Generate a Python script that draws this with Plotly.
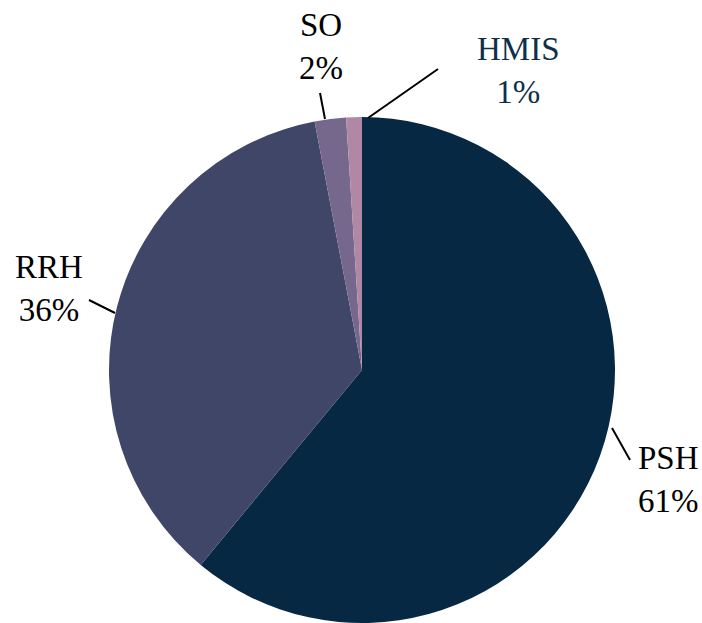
import plotly.graph_objects as go

# Données
programmes = ["PSH", "RRH", "SO", "HMIS"]
parts = [61, 36, 2, 1]
couleurs = ["#062842", "#404668", "#76678c", "#b088a6"]
couleurs_texte = ["black", "black", "black", "#0e2f4a"]

W, H = 702, 623
POLICE = "Times New Roman"

# position des étiquettes (pixels, origine en haut à gauche)
pos_etiquettes = [(668, 479), (49, 288), (321, 47), (518, 70)]
# traits de rappel (pixels)
traits = [
    ((612, 428), (630, 460)),
    ((115, 313), (89, 300)),
    ((325, 119), (320, 93)),
    ((368, 118), (438, 69)),
]


def px(x, y):
    return x / W, 1 - y / H


fig = go.Figure(go.Pie(
    labels=programmes,
    values=parts,
    sort=False,
    direction="clockwise",
    rotation=0,
    textinfo="none",
    hoverinfo="label+percent",
    marker=dict(colors=couleurs, line=dict(width=0)),
    domain=dict(x=[109 / W, 615 / W], y=[0, (H - 117) / H]),
    showlegend=False,
))

total = sum(parts)
annotations = []
for nom, val, (x, y), c in zip(programmes, parts, pos_etiquettes, couleurs_texte):
    xp, yp = px(x, y)
    annotations.append(dict(
        text=f"{nom}<br>{round(val / total * 100)}%",
        x=xp, y=yp, xref="paper", yref="paper",
        xanchor="center", yanchor="middle",
        showarrow=False,
        font=dict(family=POLICE, size=33, color=c),
    ))

shapes = []
for (x0, y0), (x1, y1) in traits:
    a = px(x0, y0)
    b = px(x1, y1)
    shapes.append(dict(
        type="line", xref="paper", yref="paper",
        x0=a[0], y0=a[1], x1=b[0], y1=b[1],
        line=dict(color="black", width=2),
    ))

fig.update_layout(
    width=W, height=H,
    margin=dict(l=0, r=0, t=0, b=0),
    paper_bgcolor="white",
    plot_bgcolor="white",
    annotations=annotations,
    shapes=shapes,
    font=dict(family=POLICE),
)

# pas de marge autour du graphique dans la page
fig.write_html("out.html", config={"displayModeBar": False},
               post_script="document.body.style.margin='0';")
